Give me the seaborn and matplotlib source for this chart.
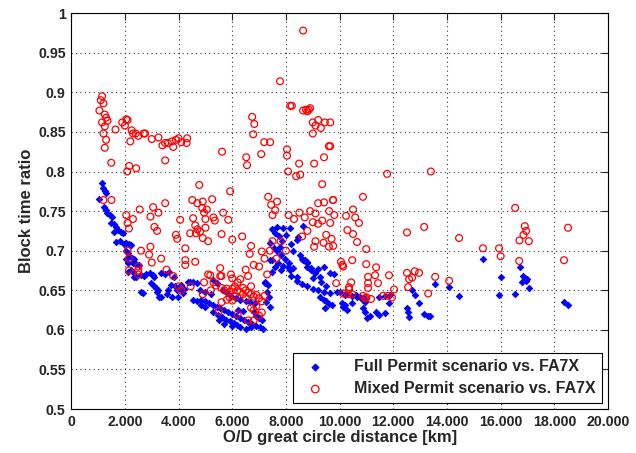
import matplotlib
matplotlib.use('Agg')

import matplotlib.pyplot as plt
from matplotlib.ticker import FuncFormatter, MultipleLocator
import seaborn as sns
import pandas as pd

# Full Permit scenario vs. FA7X  (distance km, block time ratio)
full_x = [1150, 1200, 1250, 1300, 1050, 1230, 1300, 1350, 1450, 1530, 1490, 1600, 1680, 1600, 1750, 1850, 1940,
          1680, 1800, 1950, 2050, 2150, 2230, 2050, 2120, 2160, 2250, 2350, 2050, 2120, 2310, 2420, 2530, 2230,
          2310, 2120, 2350, 2420, 2600, 2700, 2800, 2950, 3050, 3100, 3350, 3500, 3650, 3840, 2980, 3100, 3150,
          3250, 3200, 2600, 2680, 3280, 3350, 3720, 3850, 3950, 4100, 4200, 4360, 3610, 3550, 3750, 3980, 4060,
          4170, 4100, 4430, 4550, 4690,
          4540, 4700, 4850, 5000, 5150, 5300, 5440, 4850, 5000, 5550, 5700, 5850, 6000, 6150, 6300, 6450, 6600,
          6750, 6900, 7050, 7150, 5290, 5450, 5600, 5750, 5900, 6050, 6180, 5500, 5700, 6000, 6300, 6500, 6700,
          5290, 5440, 5660, 5800, 5950, 6150, 6300, 6500, 6650, 6850, 7220, 7300, 7350, 7250, 7410, 6900, 7000,
          7100, 6200, 6400, 6800, 5200, 5000, 4800,
          7410, 7550, 7680, 7800, 7950, 8100, 8250, 8420, 7670, 7900, 8160, 8450, 8420, 8270, 7780, 8600, 8720,
          8790, 8950, 9100, 9270, 7480, 7600, 7750, 7850, 8000, 8200, 8640, 8530, 8640, 8790, 7480, 7700, 7900,
          8080, 7410, 7600, 7800, 8160, 7220, 7340, 7480, 8200, 8400, 8600, 8800, 9000, 9200, 9400, 9650, 9900,
          8790, 8950, 9200, 9400, 9650, 9800, 9000, 9300, 9500, 9270, 9400, 9500, 9600, 9720, 9450, 10090, 10130,
          10280, 10020, 10250, 10450, 10600, 10760, 10200, 10470, 10200, 10650, 10900, 11020, 10870, 10950,
          11140, 10870, 10950, 11360, 11470, 11690, 11880, 11700, 11470, 11840, 12510, 12550, 12590, 12700,
          12810, 12960, 13150, 13300, 13370, 13560, 14080, 14450, 15340, 15940, 16010, 16540, 16720, 16850,
          16800, 16950, 17000, 17050, 18360, 18510]
full_y = [0.785, 0.779, 0.776, 0.773, 0.765, 0.755, 0.752, 0.748, 0.745, 0.742, 0.735, 0.734, 0.730, 0.723, 0.726,
          0.724, 0.722, 0.711, 0.712, 0.709, 0.710, 0.708, 0.707, 0.700, 0.697, 0.693, 0.691, 0.690, 0.690, 0.685,
          0.684, 0.683, 0.682, 0.675, 0.673, 0.673, 0.667, 0.667, 0.669, 0.668, 0.670, 0.672, 0.669, 0.667, 0.672,
          0.670, 0.673, 0.667, 0.659, 0.656, 0.653, 0.650, 0.648, 0.648, 0.646, 0.641, 0.641, 0.657, 0.655, 0.650,
          0.657, 0.652, 0.660, 0.650, 0.645, 0.642, 0.641, 0.654, 0.646, 0.651, 0.660, 0.661, 0.659,
          0.638, 0.637, 0.638, 0.636, 0.634, 0.632, 0.629, 0.632, 0.629, 0.628, 0.625, 0.622, 0.620, 0.618, 0.615,
          0.612, 0.610, 0.608, 0.605, 0.603, 0.601, 0.622, 0.619, 0.616, 0.613, 0.611, 0.609, 0.606, 0.612, 0.608,
          0.605, 0.603, 0.601, 0.604, 0.663, 0.659, 0.650, 0.646, 0.643, 0.640, 0.638, 0.636, 0.635, 0.634, 0.660,
          0.648, 0.641, 0.635, 0.629, 0.618, 0.615, 0.612, 0.625, 0.624, 0.622, 0.645, 0.648, 0.650,
          0.710, 0.704, 0.700, 0.695, 0.690, 0.684, 0.678, 0.667, 0.730, 0.729, 0.729, 0.717, 0.714, 0.700, 0.705,
          0.690, 0.688, 0.684, 0.678, 0.672, 0.667, 0.728, 0.722, 0.718, 0.712, 0.720, 0.708, 0.731, 0.694, 0.688,
          0.686, 0.688, 0.684, 0.681, 0.679, 0.688, 0.680, 0.676, 0.676, 0.659, 0.657, 0.673, 0.668, 0.662, 0.658,
          0.655, 0.652, 0.650, 0.648, 0.646, 0.648, 0.680, 0.675, 0.677, 0.680, 0.672, 0.670, 0.665, 0.660, 0.656,
          0.641, 0.638, 0.636, 0.633, 0.631, 0.628, 0.634, 0.629, 0.625, 0.648, 0.645, 0.643, 0.644, 0.641, 0.644,
          0.634, 0.631, 0.641, 0.640, 0.615, 0.628, 0.622, 0.618, 0.638, 0.635, 0.623, 0.619, 0.621, 0.644, 0.643,
          0.641, 0.634, 0.627, 0.622, 0.616, 0.650, 0.644, 0.634, 0.620, 0.617, 0.618, 0.658, 0.654, 0.643, 0.689,
          0.644, 0.667, 0.645, 0.680, 0.668, 0.660, 0.662, 0.664, 0.653, 0.635, 0.631]

# Mixed Permit scenario vs. FA7X
mixed_x = [1100, 1150, 1200, 1050, 1250, 1300, 1150, 1250, 1350, 1200, 1250, 1300, 1650, 1900, 2000, 2050, 2100,
           2250, 2300, 2200, 2400, 2500, 2700, 2750, 3000, 3250, 3400, 3500, 3600, 3750, 3900, 4000, 4100, 4300,
           3800, 1490, 2085, 2160, 2420, 3500, 5620, 6520, 6550, 7080, 7190, 7410, 6740, 6820, 6780, 7780, 8640,
           8160, 8220, 8040, 8040, 8490, 8080, 8380, 8530, 9350, 8640, 8750, 8850, 8900, 8800, 9000, 9100, 9200,
           9450, 9650, 9300, 9000, 9600, 9050, 9420, 9650, 11770, 13400, 4320,
           1200, 1500, 2050, 2100, 2150, 2300, 2550, 3050, 2950, 3250, 3500, 3100, 3200, 3900, 3950, 4650, 4770,
           5920, 4510, 4700, 4900, 5250, 4880, 5050, 4950, 5660, 4540, 5000, 5300, 5850, 5350, 4620, 4700, 5000,
           4800, 4430, 4900, 5100, 5600, 6000, 6370, 4060, 4250, 4250, 4250, 4620, 5550, 5180, 5600, 5950, 6590,
           7340, 7450, 7670, 7600, 7500, 6700, 6650, 7100, 7200, 7800, 8000, 7650, 8100, 8300, 8500, 8700, 8900,
           9100, 9000, 9200, 9350, 9500, 9700, 9400, 9600, 9050, 9100, 8600, 8800, 9200, 9420, 9760, 9610, 9800,
           10870, 9750, 10500, 10240, 10580, 10720, 9650, 10290, 10500, 10650, 10990, 9760, 12510, 13150, 14450,
           18510, 16900, 16950, 16850, 16700, 17050, 16540, 15340, 15940, 16000, 16690, 18360,
           10990, 11360, 10050, 10100, 10130, 10470, 12510, 12800, 12960, 12700, 12590, 12550, 13560, 11320, 11060,
           11060, 11060, 11430, 11840, 12030, 14080, 13300, 10430, 9870, 10350, 10350, 10130, 10300, 10470, 10870,
           11000, 11170, 10950, 11620, 11800, 11950,
           2100, 2150, 2500, 2500, 2500, 2150, 3350, 3550, 3000, 2900, 2600, 2950, 3800, 4000, 4100, 4450, 5100,
           5550, 5300, 5400, 5600, 5700, 5800, 5900, 6000, 6100, 6200, 6300, 6400, 6500, 6600, 6200, 6300, 6400,
           6100, 5900, 5800, 6000, 6500, 6700, 6800, 6900, 7000, 7100, 6700, 6800, 6900, 7100, 7000, 6800, 5500,
           6200, 6600, 5600, 6000, 6700, 7200, 6500, 6800, 7000, 7300, 7400, 7500, 4950, 5200, 4900]
mixed_y = [0.890, 0.895, 0.886, 0.877, 0.872, 0.868, 0.862, 0.857, 0.864, 0.848, 0.830, 0.840, 0.853, 0.862, 0.858,
           0.866, 0.865, 0.852, 0.848, 0.838, 0.848, 0.845, 0.848, 0.848, 0.841, 0.843, 0.833, 0.836, 0.836, 0.838,
           0.840, 0.842, 0.837, 0.836, 0.831, 0.811, 0.800, 0.807, 0.804, 0.814, 0.825, 0.818, 0.808, 0.822, 0.837,
           0.837, 0.869, 0.860, 0.847, 0.914, 0.978, 0.883, 0.883, 0.828, 0.820, 0.810, 0.800, 0.794, 0.796, 0.784,
           0.877, 0.878, 0.878, 0.880, 0.876, 0.862, 0.858, 0.865, 0.862, 0.862, 0.855, 0.848, 0.832, 0.810, 0.818,
           0.832, 0.797, 0.800, 0.842,
           0.764, 0.764, 0.745, 0.735, 0.728, 0.740, 0.752, 0.755, 0.743, 0.748, 0.760, 0.730, 0.725, 0.720, 0.715,
           0.722, 0.783, 0.775, 0.764, 0.760, 0.762, 0.765, 0.754, 0.752, 0.748, 0.748, 0.741, 0.740, 0.742, 0.739,
           0.738, 0.732, 0.727, 0.729, 0.724, 0.722, 0.716, 0.712, 0.721, 0.714, 0.718, 0.739, 0.703, 0.688, 0.682,
           0.686, 0.678, 0.669, 0.668, 0.670, 0.668, 0.768, 0.758, 0.762, 0.751, 0.745, 0.706, 0.696, 0.699, 0.690,
           0.712, 0.700, 0.690, 0.745, 0.740, 0.748, 0.742, 0.750, 0.747, 0.736, 0.734, 0.738, 0.720, 0.715, 0.710,
           0.705, 0.705, 0.712, 0.718, 0.725, 0.760, 0.761, 0.764, 0.750, 0.745, 0.768, 0.764, 0.752, 0.744, 0.742,
           0.735, 0.735, 0.726, 0.721, 0.711, 0.702, 0.706, 0.723, 0.730, 0.716, 0.729, 0.731, 0.725, 0.720, 0.713,
           0.712, 0.754, 0.703, 0.703, 0.693, 0.687, 0.688,
           0.683, 0.679, 0.686, 0.682, 0.680, 0.688, 0.672, 0.674, 0.672, 0.666, 0.664, 0.654, 0.667, 0.669, 0.667,
           0.659, 0.653, 0.659, 0.669, 0.651, 0.662, 0.646, 0.660, 0.659, 0.654, 0.651, 0.646, 0.645, 0.645, 0.643,
           0.641, 0.639, 0.640, 0.643, 0.643, 0.641,
           0.700, 0.690, 0.680, 0.675, 0.670, 0.675, 0.690, 0.676, 0.685, 0.695, 0.700, 0.705, 0.668, 0.655, 0.650,
           0.655, 0.670, 0.668, 0.660, 0.656, 0.653, 0.650, 0.652, 0.648, 0.652, 0.655, 0.650, 0.648, 0.653, 0.650,
           0.647, 0.660, 0.664, 0.645, 0.642, 0.641, 0.638, 0.637, 0.640, 0.645, 0.642, 0.644, 0.640, 0.636, 0.628,
           0.625, 0.630, 0.622, 0.618, 0.612, 0.624, 0.620, 0.612, 0.635, 0.665, 0.655, 0.643, 0.676, 0.682, 0.680,
           0.670, 0.700, 0.712, 0.660, 0.650, 0.645]

labels = ['Full Permit scenario vs. FA7X', 'Mixed Permit scenario vs. FA7X']

full = pd.DataFrame({'dist': full_x, 'ratio': full_y})
mixed = pd.DataFrame({'dist': mixed_x, 'ratio': mixed_y})

sns.set_style('white')
plt.rcParams['font.family'] = ['Liberation Sans', 'DejaVu Sans']
plt.rcParams['font.weight'] = 'bold'

fig = plt.figure(figsize=(6.36, 4.53), dpi=100)
ax = fig.add_axes([0.112, 0.097, 0.844, 0.874])

sns.scatterplot(data=full, x='dist', y='ratio', ax=ax, marker='D', s=11, color='#0000ff',
                edgecolor='#0000ff', linewidth=0.6, label=labels[0], zorder=3)
sns.scatterplot(data=mixed, x='dist', y='ratio', ax=ax, marker='o', s=24, facecolor='none',
                edgecolor='#ff0000', linewidth=0.9, label=labels[1], zorder=4)

ax.set_xlim(0, 20000)
ax.set_ylim(0.5, 1.0)
ax.xaxis.set_major_locator(MultipleLocator(2000))
ax.yaxis.set_major_locator(MultipleLocator(0.05))
ax.xaxis.set_major_formatter(FuncFormatter(lambda v, p: '0' if v == 0 else f'{int(v):,}'.replace(',', '.')))
ax.yaxis.set_major_formatter(FuncFormatter(lambda v, p: f'{v:.2f}'.rstrip('0').rstrip('.')))

ax.grid(True, linestyle=(0, (1, 3)), color='#333333', linewidth=0.8)
ax.tick_params(direction='in', top=True, right=True, length=5, labelsize=10.2, width=0.8, pad=4)
for lab in ax.get_xticklabels() + ax.get_yticklabels():
    lab.set_fontweight('bold')
for sp in ax.spines.values():
    sp.set_color('black')
    sp.set_linewidth(0.8)

ax.set_xlabel('O/D great circle distance [km]', fontsize=12, fontweight='bold', labelpad=1)
ax.set_ylabel('Block time ratio', fontsize=12, fontweight='bold', labelpad=3)

leg = ax.legend(loc='lower right', frameon=True, fancybox=False, fontsize=11.5, borderpad=0.4,
                handlelength=2.0, handletextpad=1.4, borderaxespad=0.4, labelspacing=0.45,
                markerscale=1.1)
leg.get_frame().set_edgecolor('black')
leg.get_frame().set_linewidth(0.8)
leg.get_frame().set_alpha(1)
for t in leg.get_texts():
    t.set_fontweight('bold')

fig.savefig('out.png', dpi=100)
